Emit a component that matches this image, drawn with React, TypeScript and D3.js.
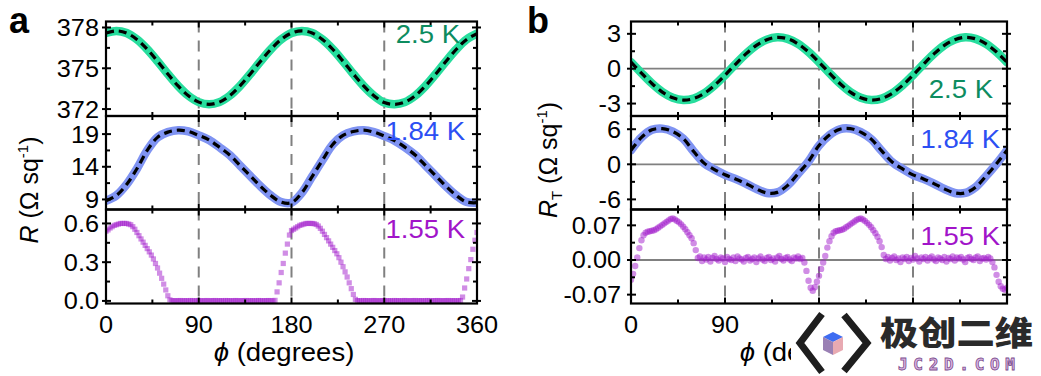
import React from "react";
import * as d3 from "d3";

// ---------- data ----------
const PHI_10 = [0, 10, 20, 30, 40, 50, 60, 70, 80, 90, 100, 110, 120, 130, 140, 150, 160, 170, 180,
  190, 200, 210, 220, 230, 240, 250, 260, 270, 280, 290, 300, 310, 320, 330, 340, 350, 360];
const PHI_2 = d3.range(0, 361, 2);

// panel a, 2.5 K  (R, Ω/sq)
const A_R_25K = [377.59, 377.75, 377.59, 377.12, 376.40, 375.52, 374.58, 373.70, 372.98, 372.51,
  372.35, 372.51, 372.98, 373.70, 374.58, 375.52, 376.40, 377.12, 377.59,
  377.75, 377.60, 377.12, 376.40, 375.52, 374.58, 373.70, 372.98, 372.48, 372.35,
  372.51, 372.98, 373.70, 374.58, 375.52, 376.40, 377.12, 377.55];

// panel a, 1.84 K
const A_R_184K = [8.8, 9.6, 11.3, 13.7, 16.5, 18.5, 19.3, 19.6, 19.4, 18.8,
  18.1, 17.0, 15.8, 14.2, 12.6, 11.0, 9.6, 8.6, 8.5,
  10.0, 12.5, 15.0, 17.4, 18.8, 19.4, 19.6, 19.3, 18.7,
  18.0, 17.0, 15.8, 14.2, 12.6, 11.0, 9.6, 8.6, 8.5];

// panel a, 1.55 K (2° steps)
const A_R_155K = [
  0.54, 0.55, 0.565, 0.575, 0.585, 0.59, 0.595, 0.60, 0.60, 0.60, 0.60, 0.595, 0.59, 0.575, 0.555, 0.53,
  0.505, 0.48, 0.455, 0.43, 0.405, 0.38, 0.355, 0.325, 0.29, 0.255, 0.215, 0.175, 0.13, 0.085, 0.04, 0.008, 0.002,
  0.002, 0.001, 0.002, 0.003, 0.001, 0.002, 0.002, 0.001, 0.003, 0.002,
  0.001, 0.002, 0.003, 0.002, 0.001, 0.002, 0.003, 0.001, 0.002, 0.002,
  0.003, 0.001, 0.002, 0.002, 0.001, 0.003, 0.002, 0.002, 0.001, 0.002,
  0.003, 0.002, 0.001, 0.002, 0.002, 0.003, 0.001, 0.002, 0.002, 0.001,
  0.002, 0.003, 0.002, 0.001, 0.002, 0.002, 0.003, 0.002, 0.001,
  0.004, 0.07, 0.14, 0.22, 0.29, 0.37, 0.44, 0.51, 0.545,
  0.555, 0.565, 0.575, 0.585, 0.59, 0.595, 0.60, 0.60, 0.60, 0.60, 0.598, 0.592, 0.58, 0.562, 0.54, 0.515,
  0.49, 0.465, 0.44, 0.415, 0.39, 0.365, 0.335, 0.30, 0.265, 0.225, 0.185, 0.14, 0.095, 0.05, 0.012, 0.002,
  0.002, 0.001, 0.003, 0.002, 0.002, 0.001, 0.002, 0.003, 0.002, 0.001,
  0.002, 0.002, 0.003, 0.001, 0.002, 0.002, 0.001, 0.003, 0.002, 0.002,
  0.001, 0.002, 0.003, 0.002, 0.001, 0.002, 0.002, 0.003, 0.001, 0.002,
  0.002, 0.001, 0.002, 0.003, 0.002, 0.001, 0.002, 0.002, 0.003, 0.002,
  0.001, 0.002, 0.002, 0.003, 0.001, 0.002, 0.002, 0.001, 0.002, 0.003,
  0.03, 0.10, 0.17, 0.25, 0.32, 0.40, 0.47, 0.53];

// panel b, 2.5 K (R_T)
const B_RT_25K = [0.56, -0.38, -1.27, -2.01, -2.50, -2.70, -2.57, -2.13, -1.43, -0.56,
  0.38, 1.27, 2.01, 2.50, 2.70, 2.57, 2.13, 1.43, 0.56,
  -0.38, -1.27, -2.01, -2.50, -2.70, -2.57, -2.13, -1.43, -0.56,
  0.38, 1.27, 2.01, 2.50, 2.70, 2.57, 2.13, 1.43, 0.56];

// panel b, 1.84 K
const B_RT_184K = [2.4, 4.6, 5.9, 6.1, 5.6, 4.4, 2.2, 0.2, -0.9, -1.8,
  -2.5, -3.3, -4.2, -4.9, -4.8, -3.6, -1.6, 0.5, 3.2,
  5.0, 6.0, 6.1, 5.5, 4.3, 2.3, 0.4, -0.8, -1.8,
  -2.5, -3.3, -4.2, -4.9, -4.9, -3.9, -2.0, 0.1, 2.4];

// panel b, 1.55 K (2° steps)
const B_RT_155K = [
  -0.040, -0.028, -0.012, 0.005, 0.024, 0.040, 0.050, 0.055, 0.057, 0.058, 0.059, 0.060, 0.062, 0.065, 0.068, 0.071,
  0.074, 0.077, 0.080, 0.083, 0.084, 0.082, 0.079, 0.076, 0.072, 0.067, 0.062, 0.056, 0.050, 0.044, 0.034, 0.020,
  0.004, 0.007, -0.002, 0.005, 0.001, 0.006, -0.003, 0.004, 0.008, 0.002,
  -0.001, 0.005, 0.003, -0.004, 0.006, 0.002, 0.000, 0.005, -0.002, 0.007,
  0.003, 0.001, -0.003, 0.004, 0.006, -0.001, 0.002, 0.005, -0.004, 0.003,
  0.007, 0.001, -0.002, 0.004, 0.006, 0.000, 0.003, -0.003, 0.005, 0.008,
  0.002, -0.001, 0.004, 0.006, 0.001, -0.002, 0.005, 0.003, 0.007, 0.002, 0.004,
  -0.005, -0.022, -0.042, -0.056, -0.062, -0.055, -0.044, -0.032,
  -0.018, -0.005, 0.008, 0.025, 0.038, 0.048, 0.055, 0.058, 0.059, 0.060, 0.061, 0.063, 0.066, 0.069, 0.072, 0.075,
  0.078, 0.081, 0.083, 0.084, 0.082, 0.079, 0.075, 0.071, 0.066, 0.060, 0.054, 0.047, 0.038, 0.026, 0.010,
  0.002, 0.006, -0.001, 0.004, 0.007, 0.000, 0.003, -0.004, 0.005, 0.002,
  0.006, -0.002, 0.004, 0.001, 0.008, 0.003, -0.003, 0.005, 0.002, 0.006,
  -0.001, 0.004, 0.007, 0.001, -0.002, 0.005, 0.003, 0.000, 0.006, -0.003,
  0.004, 0.002, 0.007, -0.001, 0.005, 0.003, 0.006, 0.001, -0.004, 0.004,
  0.006, 0.002, 0.000, 0.005, 0.007, -0.002, 0.003, 0.004, 0.001, 0.006, 0.003,
  -0.004, -0.015, -0.030, -0.044, -0.053, -0.058, -0.060, -0.056];

const X_MAJOR = [90, 180, 270];
const X_MINOR = [45, 135, 225, 315];
const X_LABELS = [0, 90, 180, 270, 360];
const X_LABELS_B_VISIBLE = [0, 90]; // the others are hidden under the watermark in the source

// ---------- style ----------
const FONT = "'Liberation Sans', Arial, Helvetica, sans-serif";
const SX = 1.1;
const GREEN = "#27dd9d";
const BLUE = "#7f93f2";
const PURPLE = "#a11ccb";

function T({ x, y, anchor = "middle", size = 23, fill = "#000", weight = "normal", children }: any) {
  return (
    <text transform={`translate(${x},${y}) scale(${SX},1)`} textAnchor={anchor} fontSize={size}
      fill={fill} fontWeight={weight} fontFamily={FONT}>{children}</text>
  );
}

let clipCounter = 0;

function Panel({ x0, x1, y0, y1, domain, major, minor, fmt, zero, labelGap, render, label, labelColor, lx, ly }: any) {
  const xs = d3.scaleLinear().domain([0, 360]).range([x0, x1]);
  const ys = d3.scaleLinear().domain(domain).range([y1, y0]);
  const id = `clip${clipCounter++}`;
  return (
    <g>
      <defs>
        <clipPath id={id}><rect x={x0} y={y0} width={x1 - x0} height={y1 - y0} /></clipPath>
      </defs>
      {X_MAJOR.map((v) => (
        <line key={"d" + v} x1={xs(v)} x2={xs(v)} y1={y0} y2={y1} stroke="#808080" strokeWidth={2} strokeDasharray="11,8" />
      ))}
      {zero && <line x1={x0} x2={x1} y1={ys(0)} y2={ys(0)} stroke="#808080" strokeWidth={1.8} />}
      <g clipPath={`url(#${id})`}>{render(xs, ys)}</g>
      <rect x={x0} y={y0} width={x1 - x0} height={y1 - y0} fill="none" stroke="#000" strokeWidth={2.2} />
      {X_MAJOR.map((v) => (
        <g key={"xm" + v}>
          <line x1={xs(v)} x2={xs(v)} y1={y1} y2={y1 - 6} stroke="#000" strokeWidth={2} />
          <line x1={xs(v)} x2={xs(v)} y1={y0} y2={y0 + 6} stroke="#000" strokeWidth={2} />
        </g>
      ))}
      {X_MINOR.map((v) => (
        <g key={"xn" + v}>
          <line x1={xs(v)} x2={xs(v)} y1={y1} y2={y1 - 4} stroke="#000" strokeWidth={2} />
          <line x1={xs(v)} x2={xs(v)} y1={y0} y2={y0 + 4} stroke="#000" strokeWidth={2} />
        </g>
      ))}
      {major.map((v: number) => (
        <g key={"ym" + v}>
          <line x1={x0 - 4} x2={x0 + 5} y1={ys(v)} y2={ys(v)} stroke="#000" strokeWidth={2} />
          <line x1={x1 - 5} x2={x1 + 4} y1={ys(v)} y2={ys(v)} stroke="#000" strokeWidth={2} />
          <T x={x0 - labelGap} y={ys(v) + 8.5} anchor="end" size={23}>{fmt(v)}</T>
        </g>
      ))}
      {minor.map((v: number) => (
        <g key={"yn" + v}>
          <line x1={x0} x2={x0 + 4} y1={ys(v)} y2={ys(v)} stroke="#000" strokeWidth={2} />
          <line x1={x1 - 4} x2={x1} y1={ys(v)} y2={ys(v)} stroke="#000" strokeWidth={2} />
        </g>
      ))}
      <T x={lx} y={ly} anchor="end" size={25} fill={labelColor}>{label}</T>
    </g>
  );
}

function smoothLine(values: number[], color: string) {
  return (xs: any, ys: any) => {
    const line = d3.line<number>()
      .x((_, i) => xs(PHI_10[i]))
      .y((d) => ys(d))
      .curve(d3.curveCatmullRom.alpha(0.5));
    const p = line(values) || "";
    return (
      <g>
        <path d={p} fill="none" stroke={color} strokeWidth={8.5} strokeLinecap="round" />
        <path d={p} fill="none" stroke="#000" strokeWidth={3.2} strokeDasharray="8,5" />
      </g>
    );
  };
}

function squares(values: number[]) {
  return (xs: any, ys: any) => (
    <g fill={PURPLE} fillOpacity={0.5}>
      {values.map((v, i) => (
        <rect key={i} x={xs(PHI_2[i]) - 2.6} y={ys(v) - 2.6} width={5.2} height={5.2} />
      ))}
    </g>
  );
}

function circles(values: number[]) {
  return (xs: any, ys: any) => (
    <g fill={PURPLE} fillOpacity={0.5}>
      {values.map((v, i) => (
        <circle key={i} cx={xs(PHI_2[i])} cy={ys(v)} r={3.2} />
      ))}
    </g>
  );
}

export default function App() {
  clipCounter = 0;
  const LX = [106, 477];
  const RX = [631, 1007];
  const ROWS = [[21.5, 116], [116, 209.5], [209.5, 303.5]];
  const intFmt = (v: number) => String(v);
  const xsL = d3.scaleLinear().domain([0, 360]).range(LX);
  const xsR = d3.scaleLinear().domain([0, 360]).range(RX);

  return (
    <svg width={1041} height={376} style={{ position: "absolute", left: 0, top: 0, background: "#fff" }}>
      <rect width={1041} height={376} fill="#fff" />
      <defs>
        <clipPath id="titleClipB"><rect x={700} y={330} width={91} height={46} /></clipPath>
      </defs>
      {/* panel a */}
      <Panel x0={LX[0]} x1={LX[1]} y0={ROWS[0][0]} y1={ROWS[0][1]} domain={[371.49, 378.44]}
        major={[372, 375, 378]} minor={[373.5, 376.5]} fmt={intFmt} labelGap={7}
        render={smoothLine(A_R_25K, GREEN)} label="2.5 K" labelColor="#0d8c5f" lx={460} ly={43} />
      <Panel x0={LX[0]} x1={LX[1]} y0={ROWS[1][0]} y1={ROWS[1][1]} domain={[7.46, 21.77]}
        major={[9, 14, 19]} minor={[11.5, 16.5]} fmt={intFmt} labelGap={7}
        render={smoothLine(A_R_184K, BLUE)} label="1.84 K" labelColor="#2c4ff3" lx={465} ly={140} />
      <Panel x0={LX[0]} x1={LX[1]} y0={ROWS[2][0]} y1={ROWS[2][1]} domain={[-0.02, 0.708]}
        major={[0, 0.3, 0.6]} minor={[0.15, 0.45]} fmt={(v: number) => v.toFixed(1)} labelGap={7}
        render={squares(A_R_155K)} label="1.55 K" labelColor="#a114c9" lx={465} ly={238} />
      {X_LABELS.map((v) => (
        <T key={"xl" + v} x={xsL(v)} y={333} size={23}>{String(v)}</T>
      ))}
      <text transform={`translate(284,361) scale(${SX},1)`} textAnchor="middle" fontSize={25} fontFamily={FONT}>
        <tspan fontStyle="italic">ϕ</tspan> (degrees)
      </text>
      <text transform="translate(38,190) rotate(-90)" textAnchor="middle" fontSize={25} fontFamily={FONT}>
        <tspan fontStyle="italic">R</tspan> (Ω sq<tspan fontSize={15} dy={-10}>-1</tspan><tspan dy={10}>)</tspan>
      </text>
      <text x={9} y={33} fontSize={36} fontWeight="bold" fontFamily={FONT}>a</text>

      {/* panel b */}
      <Panel x0={RX[0]} x1={RX[1]} y0={ROWS[0][0]} y1={ROWS[0][1]} domain={[-4.07, 4.06]}
        major={[-3, 0, 3]} minor={[-1.5, 1.5]} fmt={intFmt} labelGap={10} zero
        render={smoothLine(B_RT_25K, GREEN)} label="2.5 K" labelColor="#0d8c5f" lx={993} ly={98} />
      <Panel x0={RX[0]} x1={RX[1]} y0={ROWS[1][0]} y1={ROWS[1][1]} domain={[-7.73, 8.26]}
        major={[-6, 0, 6]} minor={[-3, 3]} fmt={intFmt} labelGap={10} zero
        render={smoothLine(B_RT_184K, BLUE)} label="1.84 K" labelColor="#2c4ff3" lx={1000} ly={148} />
      <Panel x0={RX[0]} x1={RX[1]} y0={ROWS[2][0]} y1={ROWS[2][1]} domain={[-0.0879, 0.102]}
        major={[-0.07, 0, 0.07]} minor={[-0.035, 0.035]} fmt={(v: number) => v.toFixed(2)} labelGap={10} zero
        render={circles(B_RT_155K)} label="1.55 K" labelColor="#a114c9" lx={1000} ly={245} />
      {X_LABELS_B_VISIBLE.map((v) => (
        <T key={"xr" + v} x={xsR(v)} y={333} size={23}>{String(v)}</T>
      ))}
      <g clipPath="url(#titleClipB)">
        <text transform={`translate(810,361) scale(${SX},1)`} textAnchor="middle" fontSize={25} fontFamily={FONT}>
          <tspan fontStyle="italic">ϕ</tspan> (degrees)
        </text>
      </g>
      <text transform="translate(557,160) rotate(-90)" textAnchor="middle" fontSize={25} fontFamily={FONT}>
        <tspan fontStyle="italic">R</tspan><tspan fontSize={15} dy={5}>T</tspan>
        <tspan dy={-5}> (Ω sq</tspan><tspan fontSize={15} dy={-10}>-1</tspan><tspan dy={10}>)</tspan>
      </text>
      <text x={527} y={33} fontSize={36} fontWeight="bold" fontFamily={FONT}>b</text>

      {/* watermark */}
      <g>
        <rect x={791} y={308} width={250} height={68} fill="#fff" />
        <polyline points="822,314 800,343 822,372" fill="none" stroke="#1e1e1e" strokeWidth={7} strokeLinejoin="miter" />
        <polyline points="844,315 867,343 844,371" fill="none" stroke="#1e1e1e" strokeWidth={7} strokeLinejoin="miter" />
        <polygon points="833,332 843,337 833,342 823,337" fill="#3e6cf1" />
        <polygon points="823,337 833,342 833,355 823,350" fill="#9a80b4" />
        <polygon points="833,342 843,337 843,350 833,355" fill="#e8aab2" />
        <text x={880} y={345} fontFamily="'Noto Sans CJK SC'" fontWeight={900} fontSize={33} fill="#2a2a2a"
          textLength={153} lengthAdjust="spacingAndGlyphs">极创二维</text>
        <text x={898} y={370} fontFamily="'DejaVu Sans Mono', monospace" fontWeight="bold" fontSize={16}
          fill="#dcb6e4" stroke="#7b4d8c" strokeWidth={0.8} textLength={117} lengthAdjust="spacing">JC2D.COM</text>
      </g>
    </svg>
  );
}
